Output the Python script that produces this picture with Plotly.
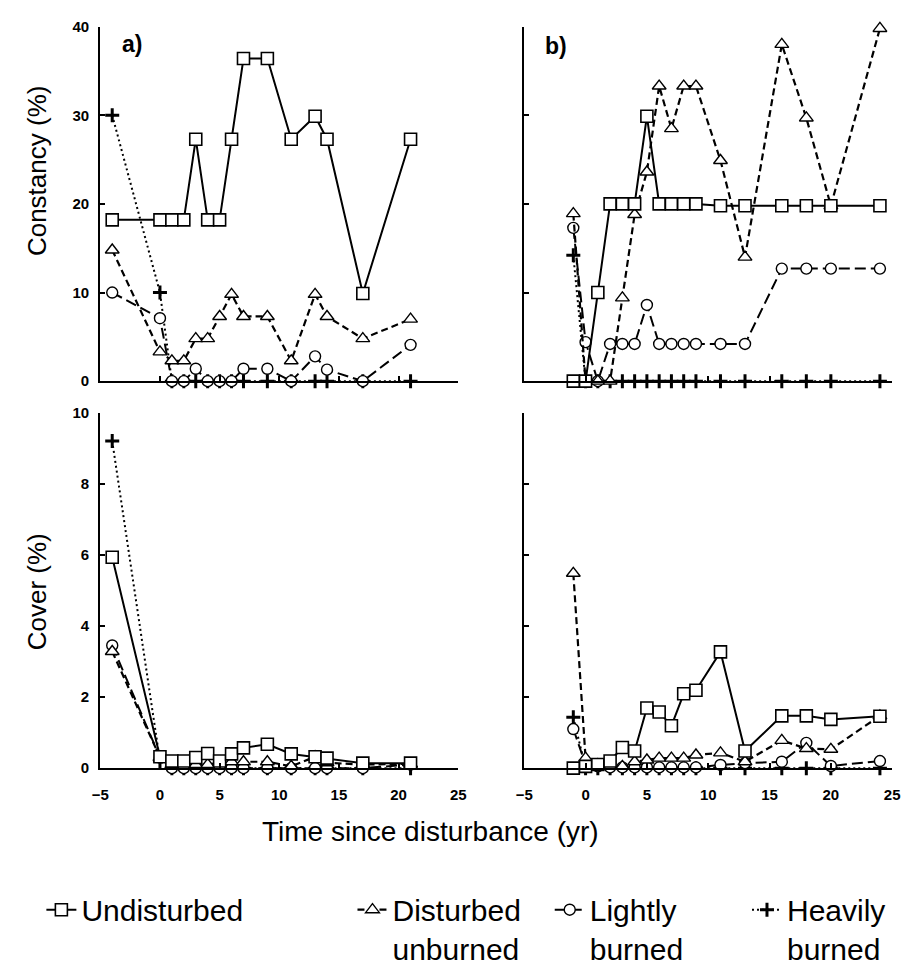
import plotly.graph_objects as go

# ---------------- data ----------------
x_a = [-4, 0, 1, 2, 3, 4, 5, 6, 7, 9, 11, 13, 14, 17, 21]
x_b = [-1, 0, 1, 2, 3, 4, 5, 6, 7, 8, 9, 11, 13, 16, 18, 20, 24]

# Constancy (%) panel a
const_a_undist = [18.2, 18.2, 18.2, 18.2, 27.3, 18.2, 18.2, 27.3, 36.4, 36.4, 27.3, 29.9, 27.3, 9.9, 27.3]
const_a_distunb = [14.8, 3.3, 2.3, 2.3, 4.8, 4.8, 7.3, 9.8, 7.3, 7.3, 2.3, 9.8, 7.3, 4.8, 7.0]
const_a_light = [10.0, 7.1, 0, 0, 1.4, 0, 0, 0, 1.4, 1.4, 0, 2.8, 1.3, 0, 4.1]
const_a_heavy = [30.0, 10.0, 0, 0, 0, 0, 0, 0, 0, 0, 0, 0, 0, 0, 0]

# Constancy (%) panel b
const_b_undist = [0, 0, 10.0, 20.0, 20.0, 20.0, 29.9, 20.0, 20.0, 20.0, 20.0, 19.8, 19.8, 19.8, 19.8, 19.8, 19.8]
const_b_distunb = [18.9, 0, 0, 0, 9.4, 18.8, 23.6, 33.3, 28.5, 33.3, 33.3, 24.9, 14.0, 38.0, 29.7, 19.8, 39.8]
const_b_light = [17.3, 4.4, 0, 4.2, 4.2, 4.2, 8.6, 4.2, 4.2, 4.2, 4.2, 4.2, 4.2, 12.7, 12.7, 12.7, 12.7]
const_b_heavy = [14.2, 0, 0, 0, 0, 0, 0, 0, 0, 0, 0, 0, 0, 0, 0, 0, 0]

# Cover (%) panel a
cover_a_undist = [5.93, 0.32, 0.2, 0.2, 0.3, 0.41, 0.2, 0.4, 0.57, 0.67, 0.4, 0.32, 0.28, 0.14, 0.14]
cover_a_distunb = [3.28, 0.3, 0.1, 0.05, 0.1, 0.1, 0.15, 0.18, 0.18, 0.18, 0.05, 0.32, 0.15, 0.1, 0.12]
cover_a_light = [3.45, 0.3, 0, 0, 0, 0, 0, 0, 0, 0, 0, 0, 0, 0, 0.1]
cover_a_heavy = [9.2, 0.2, 0, 0, 0, 0, 0, 0, 0, 0, 0, 0, 0, 0, 0]

# Cover (%) panel b
cover_b_undist = [0, 0.05, 0.1, 0.2, 0.58, 0.48, 1.69, 1.58, 1.19, 2.09, 2.19, 3.27, 0.48, 1.47, 1.47, 1.37, 1.46]
cover_b_distunb = [5.48, 0.28, 0.1, 0.05, 0.05, 0.18, 0.23, 0.28, 0.28, 0.28, 0.37, 0.43, 0.18, 0.78, 0.55, 0.53, 1.47]
cover_b_light = [1.1, 0.1, 0.05, 0.02, 0.02, 0.02, 0.02, 0.02, 0.02, 0.02, 0.02, 0.09, 0.14, 0.18, 0.71, 0.06, 0.2]
cover_b_heavy = [1.43, 0, 0, 0, 0, 0, 0, 0, 0, 0, 0, 0, 0, 0, 0, 0, 0]

series_names = ["Undisturbed", "Disturbed<br>unburned", "Lightly<br>burned", "Heavily<br>burned"]
x_ticks = [-5, 0, 5, 10, 15, 20, 25]
const_ticks = [0, 10, 20, 30, 40]
cover_ticks = [0, 2, 4, 6, 8, 10]

# ---------------- styles ----------------
styles = [
    dict(dash="solid", width=2.0, symbol="square-open", size=12, mlw=1.6),
    dict(dash="7px,4px", width=2.2, symbol="triangle-up-open", size=12, mlw=1.4),
    dict(dash="11px,5px", width=2.0, symbol="circle-open", size=11, mlw=1.4),
    dict(dash="2px,3px", width=2.0, symbol="cross-thin", size=10, mlw=3),
]
legend_ids = ["legend", "legend2", "legend3", "legend4"]
legend_x_px = [33, 350, 551, 752]

fig = go.Figure()

panels = [
    ("x", "y", x_a, [const_a_undist, const_a_distunb, const_a_light, const_a_heavy], True),
    ("x2", "y2", x_b, [const_b_undist, const_b_distunb, const_b_light, const_b_heavy], False),
    ("x3", "y3", x_a, [cover_a_undist, cover_a_distunb, cover_a_light, cover_a_heavy], False),
    ("x4", "y4", x_b, [cover_b_undist, cover_b_distunb, cover_b_light, cover_b_heavy], False),
]

for xa, ya, xs, ys_list, show in panels:
    for i in [3, 2, 1, 0]:
        st = styles[i]
        sym = st["symbol"]
        fig.add_trace(go.Scatter(
            x=xs, y=ys_list[i], xaxis=xa, yaxis=ya,
            mode="lines+markers", name=series_names[i],
            showlegend=show, legend=legend_ids[i],
            cliponaxis=False,
            line=dict(color="black", width=st["width"], dash=st["dash"]),
            marker=dict(symbol=sym.replace("-open", ""), size=st["size"],
                        color="white" if "open" in sym else "black",
                        line=dict(color="black", width=st["mlw"])),
        ))

tickfont = dict(family="Liberation Sans", size=15, color="black", weight="bold")
common_axis = dict(showline=True, linecolor="black", linewidth=2.2, showgrid=False,
                   zeroline=False, ticks="inside", ticklen=5, tickwidth=2,
                   tickcolor="black", tickfont=tickfont)

xl = [0.102, 0.502]
xr = [0.5757, 0.9868]
yt = [0.6103, 0.9815]
yb = [0.2051, 0.5774]

legend_font = dict(family="Liberation Sans", size=30, color="black")
legend_common = dict(orientation="v", y=1 - 893 / 975, xanchor="left", yanchor="top",
                     font=legend_font, valign="top", itemwidth=30,
                     bgcolor="rgba(0,0,0,0)", tracegroupgap=0)

fig.update_layout(
    width=912, height=975,
    margin=dict(l=0, r=0, t=0, b=0),
    paper_bgcolor="white", plot_bgcolor="white",
    xaxis=dict(domain=xl, range=[-5, 25], tickvals=x_ticks, showticklabels=False, anchor="y", **common_axis),
    yaxis=dict(domain=yt, range=[0, 40], tickvals=const_ticks, anchor="x", ticklabelstandoff=6, **common_axis),
    xaxis2=dict(domain=xr, range=[-5, 25], tickvals=x_ticks, showticklabels=False, anchor="y2", **common_axis),
    yaxis2=dict(domain=yt, range=[0, 40], tickvals=const_ticks, showticklabels=False, anchor="x2", **common_axis),
    xaxis3=dict(domain=xl, range=[-5, 25], tickvals=x_ticks, anchor="y3", ticklabelstandoff=12, **common_axis),
    yaxis3=dict(domain=yb, range=[0, 10], tickvals=cover_ticks, anchor="x3", ticklabelstandoff=6, **common_axis),
    xaxis4=dict(domain=xr, range=[-5, 25], tickvals=x_ticks, anchor="y4", ticklabelstandoff=12, **common_axis),
    yaxis4=dict(domain=yb, range=[0, 10], tickvals=cover_ticks, showticklabels=False, anchor="x4", **common_axis),
    legend=dict(x=legend_x_px[0] / 912, **legend_common),
    legend2=dict(x=legend_x_px[1] / 912, **legend_common),
    legend3=dict(x=legend_x_px[2] / 912, **legend_common),
    legend4=dict(x=legend_x_px[3] / 912, **legend_common),
    showlegend=True,
)

title_font = dict(family="Liberation Sans", size=26, color="black")
fig.add_annotation(text="Constancy (%)", xref="paper", yref="paper", x=28 / 912, y=1 - 165 / 975,
                   xanchor="center", yanchor="middle",
                   textangle=-90, showarrow=False, font=title_font)
fig.add_annotation(text="Cover (%)", xref="paper", yref="paper", x=28 / 912, y=1 - 595 / 975,
                   xanchor="center", yanchor="middle",
                   textangle=-90, showarrow=False, font=title_font)
fig.add_annotation(text="Time since disturbance (yr)", xref="paper", yref="paper", x=430 / 912, y=1 - 840 / 975,
                   xanchor="center", yanchor="middle",
                   showarrow=False, font=dict(family="Liberation Sans", size=28, color="black"))
label_font = dict(family="Liberation Sans", size=23, color="black", weight="bold")
fig.add_annotation(text="a)", xref="paper", yref="paper", x=125 / 912, y=1 - 36 / 975,
                   xanchor="center", yanchor="middle", showarrow=False, font=label_font)
fig.add_annotation(text="b)", xref="paper", yref="paper", x=557 / 912, y=1 - 38 / 975,
                   xanchor="center", yanchor="middle", showarrow=False, font=label_font)

fig.write_html("out.html")
